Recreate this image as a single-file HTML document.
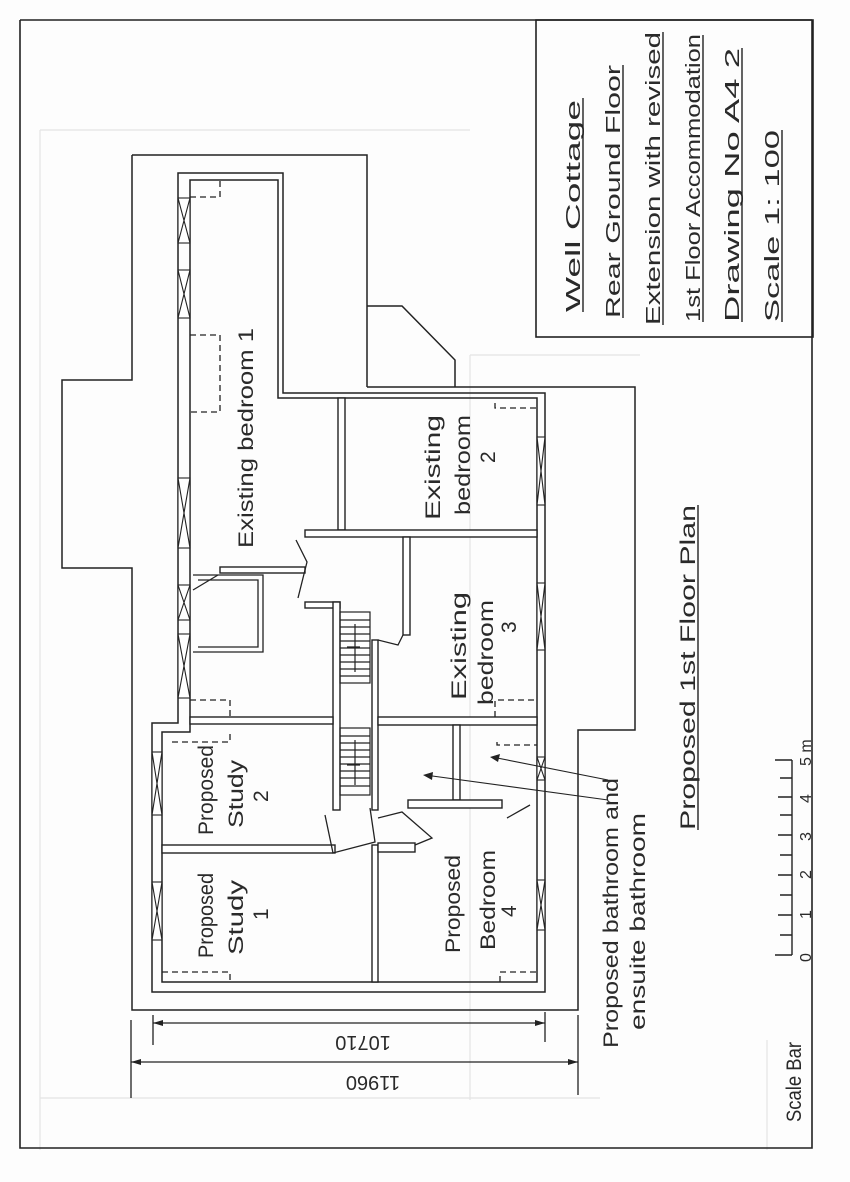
<!DOCTYPE html>
<html><head><meta charset="utf-8"><style>
html,body{margin:0;padding:0;background:#fff;}
svg{display:block;}
text{font-family:"Liberation Sans",sans-serif;fill:#2a2a2a;}
</style></head><body>
<svg width="850" height="1182" viewBox="0 0 850 1182" xmlns="http://www.w3.org/2000/svg">
<rect width="850" height="1182" fill="#fdfdfd"/>
<g stroke="#e4e4e4" stroke-width="1.2" fill="none">
<path d="M40,130 V1150 M40,130 H470 M470,355 V1100 M470,355 H640 M40,1098 H600 M767,1040 V1150"/>
</g>
<g stroke="#222" stroke-width="1.6" fill="none">
<path d="M20,20 V1148 H812 V20 M20,20 H812"/>
<rect x="536" y="20" width="277" height="317"/>
</g>
<g stroke="#222" stroke-width="1.5" fill="none">
<path d="M132,155 H367 V387 M367,306 H402 L455,360 V387 M367,387 H635 V730 H578 V1010 H132 V568 H62 V380 H132 V155"/>
</g>
<g stroke="#222" stroke-width="1.5" fill="none">
<path d="M178,173 H283 V393 H545 V992 H152 V723 H178 Z"/>
<path d="M190,180 H278 V398 H537 V982 H162 V732 H190 Z"/>
</g>
<g stroke="#222" stroke-width="1.4" fill="#fff">
<rect x="220" y="567" width="85" height="6"/>
<rect x="305" y="602" width="35" height="6"/>
<rect x="333" y="602" width="7" height="208"/>
<rect x="338" y="398" width="7" height="132"/>
<rect x="305" y="530" width="232" height="7"/>
<rect x="403" y="537" width="7" height="98"/>
<rect x="372" y="640" width="6" height="170"/>
<rect x="372" y="845" width="6" height="137"/>
<rect x="378" y="717" width="159" height="8"/>
<rect x="190" y="717" width="143" height="7"/>
<rect x="453" y="725" width="7" height="75"/>
<rect x="408" y="800" width="94" height="8"/>
<rect x="162" y="845" width="173" height="8"/>
<rect x="378" y="843" width="37" height="9"/>
</g>
<g stroke="#222" stroke-width="1.3" fill="none">
<path d="M193,575 H263 V652 H193 M198,580 H258 V647 H198"/>
</g>
<g stroke="#222" stroke-width="1.3" fill="none">
<path d="M296,540 L307,562 L298,598"/>
<path d="M193,590 L218,575"/>
<path d="M378,640 L398,645 L403,635"/>
<path d="M325,815 L333,853 L375,842 L370,808"/>
<path d="M378,818 L402,812 L432,838 L415,845"/>
<path d="M507,818 L530,805"/>
</g>
<g stroke="#222" stroke-width="1.2" fill="none">
<rect x="340" y="612" width="30" height="71"/>
<path d="M340,620 H370 M340,627 H370 M340,634 H370 M340,641 H370 M340,648 H370 M340,655 H370 M340,662 H370 M340,669 H370 M340,676 H370"/>
<rect x="340" y="728" width="30" height="67"/>
<path d="M340,736 H370 M340,743 H370 M340,750 H370 M340,757 H370 M340,764 H370 M340,771 H370 M340,778 H370 M340,786 H370"/>
<path d="M355,624 V672 M347,647 H360 M355,740 V785 M347,765 H360"/>
</g>
<g stroke="#222" stroke-width="1.1" fill="#fff">
<g><rect x="178" y="198" width="12" height="45"/><path d="M178,198 L190,243 M190,198 L178,243"/></g>
<g><rect x="178" y="270" width="12" height="48"/><path d="M178,270 L190,318 M190,270 L178,318"/></g>
<g><rect x="178" y="478" width="12" height="70"/><path d="M178,478 L190,548 M190,478 L178,548"/></g>
<g><rect x="178" y="585" width="12" height="35"/><path d="M178,585 L190,620 M190,585 L178,620"/></g>
<g><rect x="178" y="634" width="12" height="64"/><path d="M178,634 L190,698 M190,634 L178,698"/></g>
<g><rect x="152" y="752" width="10" height="63"/><path d="M152,752 L162,815 M162,752 L152,815"/></g>
<g><rect x="152" y="882" width="10" height="58"/><path d="M152,882 L162,940 M162,882 L152,940"/></g>
<g><rect x="537" y="437" width="8" height="68"/><path d="M537,437 L545,505 M545,437 L537,505"/></g>
<g><rect x="537" y="583" width="8" height="67"/><path d="M537,583 L545,650 M545,583 L537,650"/></g>
<g><rect x="537" y="757" width="8" height="23"/><path d="M537,757 L545,780 M545,757 L537,780"/></g>
<g><rect x="537" y="880" width="8" height="50"/><path d="M537,880 L545,930 M545,880 L537,930"/></g>
</g>
<g stroke="#222" stroke-width="1.3" fill="none" stroke-dasharray="6,4">
<path d="M190,197 H220 V180"/>
<path d="M190,335 H220 V412 H190"/>
<path d="M495,403 V408 H537"/>
<path d="M495,717 V700 H537"/>
<path d="M190,700 H230 V717"/>
<path d="M172,742 H230 V732"/>
<path d="M162,972 H230 V982"/>
<path d="M497,742 V745 H537"/>
<path d="M500,982 V972 H537"/>
</g>
<g stroke="#222" stroke-width="1.1" fill="none">
<path d="M608,780 L492,757 M608,800 L425,775"/>
</g>
<path d="M490,757 L500,754 L498,762 Z M423,775 L433,772 L432,780 Z" fill="#222"/>
<g stroke="#222" stroke-width="1.3" fill="none">
<path d="M153,1015 V1045 M545,1012 V1042 M153,1023 H545"/>
<path d="M131,1020 V1098 M578,1015 V1095 M131,1062 H578"/>
</g>
<path d="M153,1023 L163,1020 L163,1026 Z M545,1023 L535,1020 L535,1026 Z M131,1062 L141,1059 L141,1065 Z M578,1062 L568,1059 L568,1065 Z" fill="#222"/>
<text transform="translate(363,1036) rotate(180)" font-size="20" text-anchor="middle">10710</text>
<text transform="translate(373,1076) rotate(180)" font-size="20" text-anchor="middle">11960</text>
<g stroke="#222" stroke-width="1.4" fill="none">
<path d="M792,760 V955 M775,955 H792 M780,935 H792 M778,915 H792 M780,895 H792 M778,875 H792 M780,855 H792 M778,835 H792 M780,815 H792 M778,797 H792 M780,778 H792 M775,760 H792"/>
</g>
<g font-size="16">
<text transform="translate(811,962) rotate(-90)">0</text>
<text transform="translate(811,919) rotate(-90)">1</text>
<text transform="translate(811,879) rotate(-90)">2</text>
<text transform="translate(811,841) rotate(-90)">3</text>
<text transform="translate(811,803) rotate(-90)">4</text>
<text transform="translate(811,766) rotate(-90)">5 m</text>
</g>
<text transform="translate(801,1122) rotate(-90)" font-size="21" textLength="80" lengthAdjust="spacingAndGlyphs">Scale Bar</text>
<g font-size="20">
<text transform="translate(580,312) rotate(-90)" textLength="212" lengthAdjust="spacingAndGlyphs">Well Cottage</text>
<text transform="translate(620,318) rotate(-90)" textLength="253" lengthAdjust="spacingAndGlyphs">Rear Ground Floor</text>
<text transform="translate(660,325) rotate(-90)" textLength="293" lengthAdjust="spacingAndGlyphs">Extension with revised</text>
<text transform="translate(700,322) rotate(-90)" textLength="288" lengthAdjust="spacingAndGlyphs">1st Floor Accommodation</text>
<text transform="translate(739,322) rotate(-90)" textLength="274" lengthAdjust="spacingAndGlyphs">Drawing No A4 2</text>
<text transform="translate(779,322) rotate(-90)" textLength="192" lengthAdjust="spacingAndGlyphs">Scale 1: 100</text>
</g>
<g stroke="#222" stroke-width="1.4">
<path d="M583,98 V312 M623,65 V318 M663,32 V325 M703,35 V322 M742,48 V322 M782,130 V322 M698,505 V830"/>
</g>
<g font-size="21">
<text transform="translate(253,548) rotate(-90)" textLength="220" lengthAdjust="spacingAndGlyphs">Existing bedroom 1</text>
<text transform="translate(440,520) rotate(-90)" textLength="105" lengthAdjust="spacingAndGlyphs">Existing</text>
<text transform="translate(470,515) rotate(-90)" textLength="100" lengthAdjust="spacingAndGlyphs">bedroom</text>
<text transform="translate(495,463) rotate(-90)">2</text>
<text transform="translate(466,700) rotate(-90)" textLength="108" lengthAdjust="spacingAndGlyphs">Existing</text>
<text transform="translate(493,705) rotate(-90)" textLength="105" lengthAdjust="spacingAndGlyphs">bedroom</text>
<text transform="translate(516,633) rotate(-90)">3</text>
<text transform="translate(213,835) rotate(-90)" textLength="90" lengthAdjust="spacingAndGlyphs">Proposed</text>
<text transform="translate(243,828) rotate(-90)" textLength="68" lengthAdjust="spacingAndGlyphs">Study</text>
<text transform="translate(268,802) rotate(-90)">2</text>
<text transform="translate(213,958) rotate(-90)" textLength="85" lengthAdjust="spacingAndGlyphs">Proposed</text>
<text transform="translate(243,955) rotate(-90)" textLength="75" lengthAdjust="spacingAndGlyphs">Study</text>
<text transform="translate(268,920) rotate(-90)">1</text>
<text transform="translate(460,953) rotate(-90)" textLength="98" lengthAdjust="spacingAndGlyphs">Proposed</text>
<text transform="translate(495,950) rotate(-90)" textLength="100" lengthAdjust="spacingAndGlyphs">Bedroom</text>
<text transform="translate(516,917) rotate(-90)">4</text>
<text transform="translate(618,1048) rotate(-90)" textLength="270" lengthAdjust="spacingAndGlyphs">Proposed bathroom and</text>
<text transform="translate(645,1030) rotate(-90)" textLength="217" lengthAdjust="spacingAndGlyphs">ensuite bathroom</text>
<text transform="translate(695,830) rotate(-90)" textLength="325" lengthAdjust="spacingAndGlyphs">Proposed 1st Floor Plan</text>
</g>
</svg>
</body></html>
